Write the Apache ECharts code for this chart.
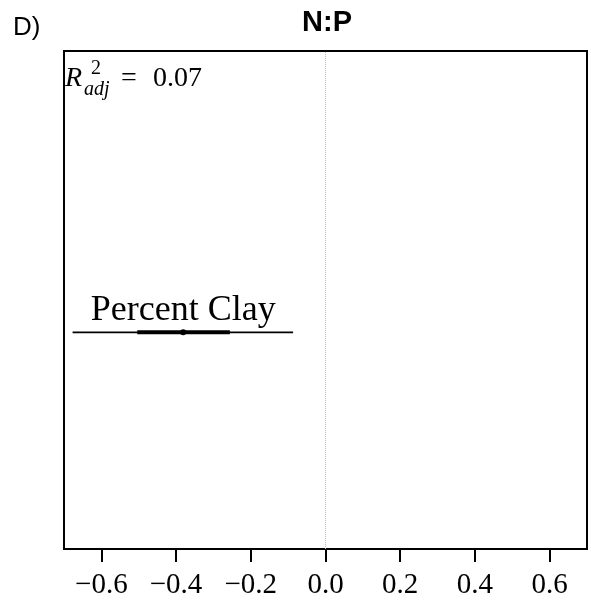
<!DOCTYPE html>
<html>
<head>
<meta charset="utf-8">
<script src="https://cdn.jsdelivr.net/npm/echarts@6/dist/echarts.min.js"></script>
<style>html,body{margin:0;padding:0;background:#fff}#c{width:591px;height:604px}</style>
</head>
<body>
<div id="c"></div>
<script>
// Data
const predictors = ['Percent Clay'];
const estimates = [-0.381];
const ci50Low = [-0.504];
const ci50High = [-0.256];
const ci95Low = [-0.677];
const ci95High = [-0.0867];
const yPositions = [0.435];
const xTicks = [-0.6, -0.4, -0.2, 0.0, 0.2, 0.4, 0.6];
const panelLabel = 'D)';
const panelTitle = 'N:P';
const r2adj = '0.07';

const serif = '"Liberation Serif", "Times New Roman", serif';
const sans = '"Liberation Sans", Arial, sans-serif';

const series = [];
predictors.forEach((p, i) => {
  series.push({
    type: 'line', data: [[ci95Low[i], yPositions[i]], [ci95High[i], yPositions[i]]],
    symbol: 'none', lineStyle: {color: '#000', width: 1.8}, silent: true, z: 2
  });
  series.push({
    type: 'line', data: [[ci50Low[i], yPositions[i]], [ci50High[i], yPositions[i]]],
    symbol: 'none', lineStyle: {color: '#000', width: 4}, silent: true, z: 3
  });
  series.push({
    type: 'scatter', data: [[estimates[i], yPositions[i]]],
    symbolSize: 6, itemStyle: {color: '#000', opacity: 1}, z: 4,
    label: {show: true, position: 'top', distance: 1, formatter: p,
      fontFamily: serif, fontSize: 36, color: '#000', opacity: 1}
  });
});
series[0].markLine = {
  silent: true, symbol: 'none', label: {show: false},
  lineStyle: {color: '#bbb', type: 'dotted', width: 1},
  data: [{xAxis: 0}]
};

const chart = echarts.init(document.getElementById('c'), null, {renderer: 'canvas'});
chart.setOption({
  animation: false,
  grid: {left: 64, right: 4, top: 51, bottom: 55, show: true, borderColor: '#000', borderWidth: 2, backgroundColor: 'transparent'},
  xAxis: {
    type: 'value', min: -0.7, max: 0.7,
    axisLine: {show: false},
    splitLine: {show: false},
    axisTick: {show: true, length: 13, lineStyle: {color: '#000', width: 2}, customValues: xTicks},
    axisLabel: {show: true, margin: 22, customValues: xTicks, fontFamily: serif, fontSize: 29, color: '#000',
      formatter: v => v.toFixed(1).replace('-', '\u2212')}
  },
  yAxis: {
    type: 'value', min: 0, max: 1,
    axisLine: {show: false}, axisTick: {show: false}, axisLabel: {show: false}, splitLine: {show: false}
  },
  graphic: [
    {type: 'text', x: 13, y: 27.7, style: {text: panelLabel, font: '26px ' + sans, fill: '#000', textAlign: 'left', textVerticalAlign: 'middle', align: 'left', verticalAlign: 'middle'}},
    {type: 'text', x: 327, y: 22.5, style: {text: panelTitle, font: 'bold 29px ' + sans, fill: '#000', textAlign: 'center', textVerticalAlign: 'middle', align: 'center', verticalAlign: 'middle'}},
    {type: 'text', x: 65, y: 79, style: {text: 'R', font: 'italic 28px ' + serif, fill: '#000', textAlign: 'left', textVerticalAlign: 'middle', align: 'left', verticalAlign: 'middle'}},
    {type: 'text', x: 91, y: 69, style: {text: '2', font: '20px ' + serif, fill: '#000', textAlign: 'left', textVerticalAlign: 'middle', align: 'left', verticalAlign: 'middle'}},
    {type: 'text', x: 84, y: 90, style: {text: 'adj', font: 'italic 20px ' + serif, fill: '#000', textAlign: 'left', textVerticalAlign: 'middle', align: 'left', verticalAlign: 'middle'}},
    {type: 'text', x: 121, y: 79, style: {text: '=', font: '28px ' + serif, fill: '#000', textAlign: 'left', textVerticalAlign: 'middle', align: 'left', verticalAlign: 'middle'}},
    {type: 'text', x: 153, y: 79, style: {text: r2adj, font: '28px ' + serif, fill: '#000', textAlign: 'left', textVerticalAlign: 'middle', align: 'left', verticalAlign: 'middle'}}
  ],
  series: series
});
</script>
</body>
</html>
